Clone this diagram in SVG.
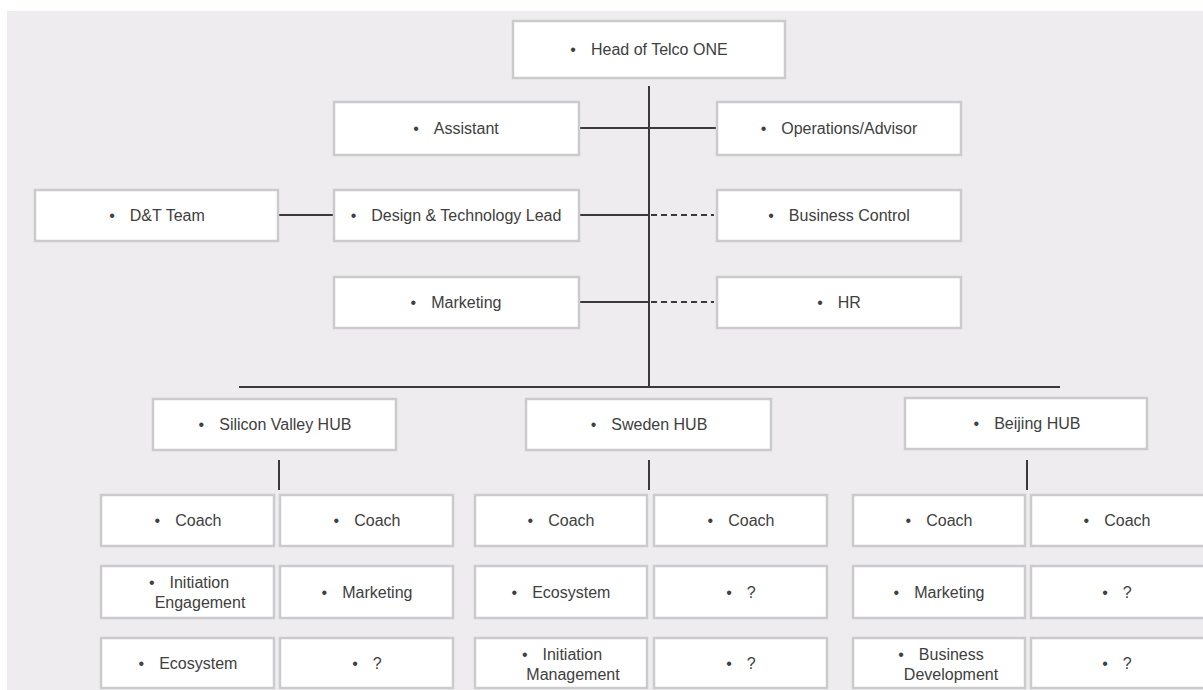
<svg xmlns="http://www.w3.org/2000/svg" width="1203" height="690" viewBox="0 0 1203 690">
  <style>
    .bg { fill: #eeecef; }
    .box { fill: #ffffff; stroke: #cbcbcb; stroke-width: 2.5; }
    .lbl { font-family: "Liberation Sans", Arial, sans-serif; font-size: 16px; fill: #404040; text-anchor: middle; }
    .ln { stroke: #3a3a3a; stroke-width: 2; fill: none; }
    .dash { stroke: #3a3a3a; stroke-width: 2; fill: none; stroke-dasharray: 6 4; }
  </style>

  <rect x="0" y="0" width="1203" height="690" fill="#ffffff"/>
  <rect class="bg" x="7" y="11" width="1196" height="679"/>

  <!-- connectors -->
  <g id="connectors">
    <line class="ln" x1="649" y1="86" x2="649" y2="386"/>
    <line class="ln" x1="239" y1="387" x2="1060" y2="387"/>
    <line class="ln" x1="580" y1="128" x2="716" y2="128"/>
    <line class="ln" x1="279" y1="215" x2="333" y2="215"/>
    <line class="ln" x1="580" y1="215" x2="649" y2="215"/>
    <line class="dash" x1="651" y1="215" x2="714" y2="215"/>
    <line class="ln" x1="580" y1="302" x2="649" y2="302"/>
    <line class="dash" x1="651" y1="302" x2="714" y2="302"/>
    <line class="ln" x1="279" y1="460" x2="279" y2="490"/>
    <line class="ln" x1="649" y1="460" x2="649" y2="490"/>
    <line class="ln" x1="1027" y1="460" x2="1027" y2="490"/>
  </g>

  <!-- top level -->
  <g id="head">
    <rect class="box" x="513" y="21" width="272" height="57"/>
    <text class="lbl" x="649" y="55"><tspan>•</tspan><tspan dx="15">Head of Telco ONE</tspan></text>
  </g>

  <g id="assistant">
    <rect class="box" x="334" y="102" width="245" height="53"/>
    <text class="lbl" x="456" y="134"><tspan>•</tspan><tspan dx="15">Assistant</tspan></text>
  </g>
  <g id="operations">
    <rect class="box" x="717" y="102" width="244" height="53"/>
    <text class="lbl" x="839" y="134"><tspan>•</tspan><tspan dx="15">Operations/Advisor</tspan></text>
  </g>

  <g id="dt-team">
    <rect class="box" x="35" y="190" width="243" height="51"/>
    <text class="lbl" x="157" y="221"><tspan>•</tspan><tspan dx="15">D&amp;T Team</tspan></text>
  </g>
  <g id="design-tech-lead">
    <rect class="box" x="334" y="190" width="245" height="51"/>
    <text class="lbl" x="456" y="221"><tspan>•</tspan><tspan dx="15">Design &amp; Technology Lead</tspan></text>
  </g>
  <g id="business-control">
    <rect class="box" x="717" y="190" width="244" height="51"/>
    <text class="lbl" x="839" y="221"><tspan>•</tspan><tspan dx="15">Business Control</tspan></text>
  </g>

  <g id="marketing">
    <rect class="box" x="334" y="277" width="245" height="51"/>
    <text class="lbl" x="456" y="308"><tspan>•</tspan><tspan dx="15">Marketing</tspan></text>
  </g>
  <g id="hr">
    <rect class="box" x="717" y="277" width="244" height="51"/>
    <text class="lbl" x="839" y="308"><tspan>•</tspan><tspan dx="15">HR</tspan></text>
  </g>

  <!-- hubs -->
  <g id="hub-silicon-valley">
    <rect class="box" x="153" y="399" width="243" height="51"/>
    <text class="lbl" x="275" y="430"><tspan>•</tspan><tspan dx="15">Silicon Valley HUB</tspan></text>
  </g>
  <g id="hub-sweden">
    <rect class="box" x="526" y="399" width="245" height="51"/>
    <text class="lbl" x="649" y="430"><tspan>•</tspan><tspan dx="15">Sweden HUB</tspan></text>
  </g>
  <g id="hub-beijing">
    <rect class="box" x="905" y="398" width="242" height="51"/>
    <text class="lbl" x="1027" y="429"><tspan>•</tspan><tspan dx="15">Beijing HUB</tspan></text>
  </g>

  <!-- Silicon Valley teams -->
  <g id="sv-coach-1">
    <rect class="box" x="101" y="495" width="173" height="51"/>
    <text class="lbl" x="188" y="526"><tspan>•</tspan><tspan dx="15">Coach</tspan></text>
  </g>
  <g id="sv-coach-2">
    <rect class="box" x="280" y="495" width="173" height="51"/>
    <text class="lbl" x="367" y="526"><tspan>•</tspan><tspan dx="15">Coach</tspan></text>
  </g>
  <g id="sv-initiation-engagement">
    <rect class="box" x="101" y="566" width="173" height="52"/>
    <text class="lbl" x="189" y="588"><tspan>•</tspan><tspan dx="15">Initiation</tspan></text>
    <text class="lbl" x="200" y="608">Engagement</text>
  </g>
  <g id="sv-marketing">
    <rect class="box" x="280" y="566" width="173" height="52"/>
    <text class="lbl" x="367" y="598"><tspan>•</tspan><tspan dx="15">Marketing</tspan></text>
  </g>
  <g id="sv-ecosystem">
    <rect class="box" x="101" y="638" width="173" height="50"/>
    <text class="lbl" x="188" y="669"><tspan>•</tspan><tspan dx="15">Ecosystem</tspan></text>
  </g>
  <g id="sv-open">
    <rect class="box" x="280" y="638" width="173" height="50"/>
    <text class="lbl" x="367" y="669"><tspan>•</tspan><tspan dx="15">?</tspan></text>
  </g>

  <!-- Sweden teams -->
  <g id="se-coach-1">
    <rect class="box" x="475" y="495" width="172" height="51"/>
    <text class="lbl" x="561" y="526"><tspan>•</tspan><tspan dx="15">Coach</tspan></text>
  </g>
  <g id="se-coach-2">
    <rect class="box" x="654" y="495" width="173" height="51"/>
    <text class="lbl" x="741" y="526"><tspan>•</tspan><tspan dx="15">Coach</tspan></text>
  </g>
  <g id="se-ecosystem">
    <rect class="box" x="475" y="566" width="172" height="52"/>
    <text class="lbl" x="561" y="598"><tspan>•</tspan><tspan dx="15">Ecosystem</tspan></text>
  </g>
  <g id="se-open-1">
    <rect class="box" x="654" y="566" width="173" height="52"/>
    <text class="lbl" x="741" y="598"><tspan>•</tspan><tspan dx="15">?</tspan></text>
  </g>
  <g id="se-initiation-management">
    <rect class="box" x="475" y="638" width="172" height="50"/>
    <text class="lbl" x="562" y="660"><tspan>•</tspan><tspan dx="15">Initiation</tspan></text>
    <text class="lbl" x="573" y="680">Management</text>
  </g>
  <g id="se-open-2">
    <rect class="box" x="654" y="638" width="173" height="50"/>
    <text class="lbl" x="741" y="669"><tspan>•</tspan><tspan dx="15">?</tspan></text>
  </g>

  <!-- Beijing teams -->
  <g id="bj-coach-1">
    <rect class="box" x="853" y="495" width="172" height="51"/>
    <text class="lbl" x="939" y="526"><tspan>•</tspan><tspan dx="15">Coach</tspan></text>
  </g>
  <g id="bj-coach-2">
    <rect class="box" x="1031" y="495" width="174" height="51"/>
    <text class="lbl" x="1117" y="526"><tspan>•</tspan><tspan dx="15">Coach</tspan></text>
  </g>
  <g id="bj-marketing">
    <rect class="box" x="853" y="566" width="172" height="52"/>
    <text class="lbl" x="939" y="598"><tspan>•</tspan><tspan dx="15">Marketing</tspan></text>
  </g>
  <g id="bj-open-1">
    <rect class="box" x="1031" y="566" width="174" height="52"/>
    <text class="lbl" x="1117" y="598"><tspan>•</tspan><tspan dx="15">?</tspan></text>
  </g>
  <g id="bj-business-development">
    <rect class="box" x="853" y="638" width="172" height="50"/>
    <text class="lbl" x="941" y="660"><tspan>•</tspan><tspan dx="15">Business</tspan></text>
    <text class="lbl" x="951" y="680">Development</text>
  </g>
  <g id="bj-open-2">
    <rect class="box" x="1031" y="638" width="174" height="50"/>
    <text class="lbl" x="1117" y="669"><tspan>•</tspan><tspan dx="15">?</tspan></text>
  </g>
</svg>
